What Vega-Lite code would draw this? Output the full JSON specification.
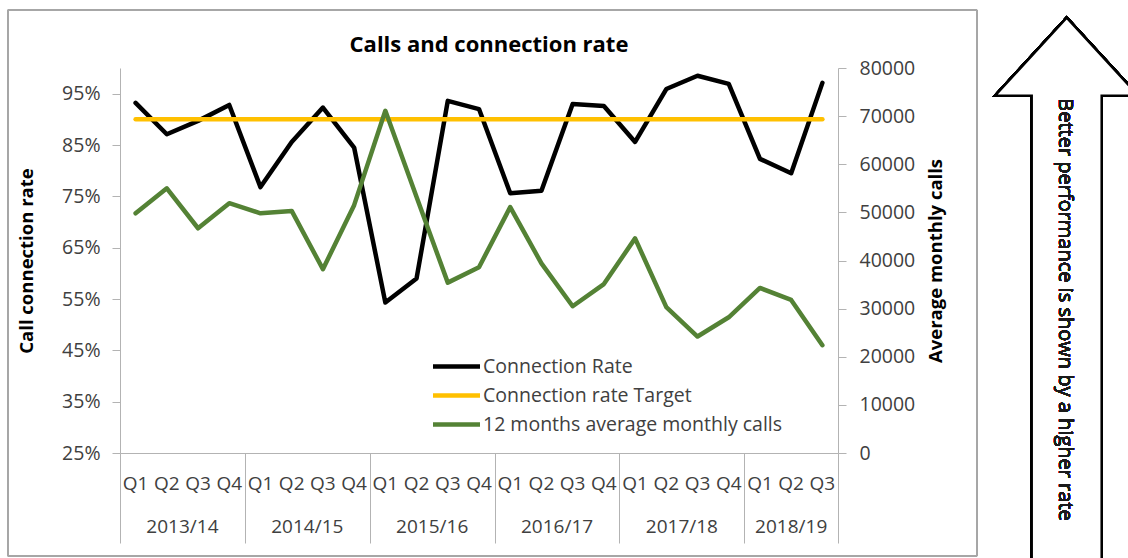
{
  "$schema": "https://vega.github.io/schema/vega-lite/v6.json",
  "width": 718,
  "height": 385,
  "autosize": {"type": "none"},
  "padding": {"left": 120, "top": 68, "right": 290, "bottom": 105},
  "background": "white",
  "config": {
    "view": {"stroke": null},
    "font": "Open Sans",
    "axis": {"grid": false, "zindex": 1, "labelFont": "Open Sans", "titleFont": "Open Sans", "labelColor": "#404040", "domainColor": "#b3b3b3", "tickColor": "#b3b3b3", "titleColor": "#000000"},
    "legend": {"orient": "none", "legendX": 324, "legendY": 286, "symbolType": "M-2.35,0H2.35", "symbolSize": 400, "symbolStrokeWidth": 4.5, "labelFont": "Open Sans", "labelFontSize": 19.5, "labelColor": "#404040", "labelOffset": 14, "labelLimit": 500, "rowPadding": 7, "padding": 0}
  },
  "title": {"text": "Calls and connection rate", "font": "Open Sans", "fontSize": 22, "fontWeight": "bold", "color": "#000000", "anchor": "middle", "dx": 10, "offset": -48},
  "data": {"values": [
    {"idx": 0, "fy": "2013/14", "q": "Q1", "rate": 0.932, "target": 0.9, "calls": 49800},
    {"idx": 1, "fy": "2013/14", "q": "Q2", "rate": 0.871, "target": 0.9, "calls": 55000},
    {"idx": 2, "fy": "2013/14", "q": "Q3", "rate": 0.897, "target": 0.9, "calls": 46700},
    {"idx": 3, "fy": "2013/14", "q": "Q4", "rate": 0.928, "target": 0.9, "calls": 51900},
    {"idx": 4, "fy": "2014/15", "q": "Q1", "rate": 0.768, "target": 0.9, "calls": 49800},
    {"idx": 5, "fy": "2014/15", "q": "Q2", "rate": 0.856, "target": 0.9, "calls": 50300},
    {"idx": 6, "fy": "2014/15", "q": "Q3", "rate": 0.923, "target": 0.9, "calls": 38200},
    {"idx": 7, "fy": "2014/15", "q": "Q4", "rate": 0.845, "target": 0.9, "calls": 51500},
    {"idx": 8, "fy": "2015/16", "q": "Q1", "rate": 0.543, "target": 0.9, "calls": 71100},
    {"idx": 9, "fy": "2015/16", "q": "Q2", "rate": 0.590, "target": 0.9, "calls": 53200},
    {"idx": 10, "fy": "2015/16", "q": "Q3", "rate": 0.936, "target": 0.9, "calls": 35400},
    {"idx": 11, "fy": "2015/16", "q": "Q4", "rate": 0.920, "target": 0.9, "calls": 38600},
    {"idx": 12, "fy": "2016/17", "q": "Q1", "rate": 0.756, "target": 0.9, "calls": 51100},
    {"idx": 13, "fy": "2016/17", "q": "Q2", "rate": 0.761, "target": 0.9, "calls": 39400},
    {"idx": 14, "fy": "2016/17", "q": "Q3", "rate": 0.930, "target": 0.9, "calls": 30500},
    {"idx": 15, "fy": "2016/17", "q": "Q4", "rate": 0.926, "target": 0.9, "calls": 35100},
    {"idx": 16, "fy": "2017/18", "q": "Q1", "rate": 0.856, "target": 0.9, "calls": 44600},
    {"idx": 17, "fy": "2017/18", "q": "Q2", "rate": 0.959, "target": 0.9, "calls": 30300},
    {"idx": 18, "fy": "2017/18", "q": "Q3", "rate": 0.985, "target": 0.9, "calls": 24200},
    {"idx": 19, "fy": "2017/18", "q": "Q4", "rate": 0.969, "target": 0.9, "calls": 28200},
    {"idx": 20, "fy": "2018/19", "q": "Q1", "rate": 0.823, "target": 0.9, "calls": 34300},
    {"idx": 21, "fy": "2018/19", "q": "Q2", "rate": 0.795, "target": 0.9, "calls": 31800},
    {"idx": 22, "fy": "2018/19", "q": "Q3", "rate": 0.971, "target": 0.9, "calls": 22400}
  ]},
  "layer": [
    {
      "layer": [
        {
          "mark": {"type": "rect", "filled": false, "stroke": "#a6a6a6", "strokeWidth": 1},
          "encoding": {
            "x": {"datum": -4.088, "type": "quantitative", "scale": {"domain": [-0.5, 22.5], "nice": false, "zero": false}},
            "x2": {"datum": 26.953},
            "y": {"datum": 1.113, "type": "quantitative", "scale": {"domain": [0.25, 1.0], "nice": false, "zero": false}},
            "y2": {"datum": 0.0493}
          }
        },
        {
          "mark": {"type": "point", "shape": "M0,0L71.7,78L35,78L35,600L-35,600L-35,78L-71.7,78Z", "size": 4, "filled": true, "fill": "white", "stroke": "black", "strokeWidth": 2.5, "opacity": 1, "strokeJoin": "miter"},
          "encoding": {
            "x": {"datum": 29.826, "type": "quantitative", "scale": {"domain": [-0.5, 22.5], "nice": false, "zero": false}},
            "y": {"datum": 1.098, "type": "quantitative", "scale": {"domain": [0.25, 1.0], "nice": false, "zero": false}}
          }
        },
        {
          "mark": {"type": "text", "text": "Better performance is shown by a higher rate", "angle": 90, "font": "Open Sans", "fontSize": 20, "fill": "#1a1a1a", "align": "center", "baseline": "middle"},
          "encoding": {
            "x": {"datum": 29.772, "type": "quantitative", "scale": {"domain": [-0.5, 22.5], "nice": false, "zero": false}},
            "y": {"datum": 0.5295, "type": "quantitative", "scale": {"domain": [0.25, 1.0], "nice": false, "zero": false}}
          }
        },
        {
          "mark": {"type": "text", "font": "Open Sans", "fontSize": 19, "color": "#404040", "dy": 31, "baseline": "middle", "align": "center"},
          "encoding": {
            "x": {"field": "idx", "type": "quantitative", "scale": {"domain": [-0.5, 22.5], "nice": false, "zero": false}},
            "y": {"datum": 0.25, "type": "quantitative", "scale": {"domain": [0.25, 1.0], "nice": false, "zero": false}},
            "text": {"field": "q"}
          }
        },
        {
          "transform": [{"aggregate": [{"op": "mean", "field": "idx", "as": "mid"}], "groupby": ["fy"]}],
          "mark": {"type": "text", "font": "Open Sans", "fontSize": 19, "color": "#404040", "dy": 74, "baseline": "middle", "align": "center"},
          "encoding": {
            "x": {"field": "mid", "type": "quantitative", "scale": {"domain": [-0.5, 22.5], "nice": false, "zero": false}},
            "y": {"datum": 0.25, "type": "quantitative", "scale": {"domain": [0.25, 1.0], "nice": false, "zero": false}},
            "text": {"field": "fy"}
          }
        },
        {
          "mark": {"type": "line", "strokeWidth": 4.5, "strokeJoin": "round", "strokeCap": "round"},
          "encoding": {
            "x": {"field": "idx", "type": "quantitative", "scale": {"domain": [-0.5, 22.5], "nice": false, "zero": false},
                  "axis": {"values": [-0.5, 3.5, 7.5, 11.5, 15.5, 19.5, 22.5], "labels": false, "ticks": true, "tickSize": 90, "title": null, "domain": true, "domainWidth": 1}},
            "y": {"field": "rate", "type": "quantitative", "scale": {"domain": [0.25, 1.0], "nice": false, "zero": false},
                  "axis": {"orient": "left", "values": [0.25, 0.35, 0.45, 0.55, 0.65, 0.75, 0.85, 0.95], "format": ".0%", "tickSize": 8, "labelPadding": 12, "labelFontSize": 19.5, "title": "Call connection rate", "titleFontSize": 18.5, "titleFontWeight": "bold", "titlePadding": 25}},
            "color": {"datum": "Connection Rate", "scale": {"domain": ["Connection Rate", "Connection rate Target", "12 months average monthly calls"], "range": ["#000000", "#FFC000", "#548235"]}, "legend": {"title": null}}
          }
        },
        {
          "mark": {"type": "line", "strokeWidth": 4.5, "strokeJoin": "round", "strokeCap": "round"},
          "encoding": {
            "x": {"field": "idx", "type": "quantitative", "scale": {"domain": [-0.5, 22.5], "nice": false, "zero": false}},
            "y": {"field": "target", "type": "quantitative", "scale": {"domain": [0.25, 1.0], "nice": false, "zero": false}},
            "color": {"datum": "Connection rate Target", "scale": {"domain": ["Connection Rate", "Connection rate Target", "12 months average monthly calls"], "range": ["#000000", "#FFC000", "#548235"]}, "legend": {"title": null}}
          }
        }
      ]
    },
    {
      "mark": {"type": "line", "strokeWidth": 4.5, "strokeJoin": "round", "strokeCap": "round"},
      "encoding": {
        "x": {"field": "idx", "type": "quantitative", "scale": {"domain": [-0.5, 22.5], "nice": false, "zero": false}},
        "y": {"field": "calls", "type": "quantitative", "scale": {"domain": [0, 80000], "nice": false, "zero": false},
              "axis": {"orient": "right", "values": [0, 10000, 20000, 30000, 40000, 50000, 60000, 70000, 80000], "format": "d", "tickSize": 8, "labelPadding": 13, "labelFontSize": 19.5, "title": "Average monthly calls", "titleFontSize": 18.5, "titleFontWeight": "bold", "titleAngle": 270, "titleBaseline": "top", "titlePadding": 12}},
        "color": {"datum": "12 months average monthly calls", "scale": {"domain": ["Connection Rate", "Connection rate Target", "12 months average monthly calls"], "range": ["#000000", "#FFC000", "#548235"]}, "legend": {"title": null}}
      }
    }
  ],
  "resolve": {"scale": {"y": "independent"}}
}
